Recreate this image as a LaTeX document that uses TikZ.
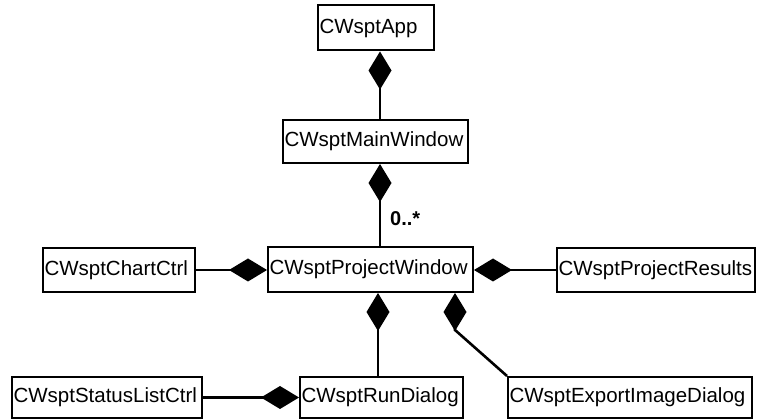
\documentclass[tikz,border=0pt]{standalone}
\usepackage{fontspec}
\setmainfont{Liberation Sans}
\usetikzlibrary{arrows.meta}
\begin{document}
\begin{tikzpicture}[x=1pt,y=-1pt,
  cls/.style={draw=black, line width=2pt, fill=white, inner xsep=1.5pt, inner ysep=0pt,
    font=\fontsize{20.5}{23}\selectfont, align=left},
  comp/.style={line width=2.6pt, -{Diamond[length=38pt,width=23pt]}},
  lbl/.style={font=\fontsize{20}{23}\selectfont\bfseries, inner sep=0pt, anchor=west}]
\useasboundingbox (0,0) rectangle (758,419);
\fill[white] (0,0) rectangle (758,419);
% classes
\node[cls, text width=113pt, minimum height=45pt] (app) at (376,28) {CWsptApp};
\node[cls, text width=182pt, minimum height=43pt] (main) at (375.5,141.5) {CWsptMainWindow};
\node[cls, text width=202pt, minimum height=45pt] (proj) at (370.5,269.5) {CWsptProjectWindow};
\node[cls, text width=149pt, minimum height=44pt] (chart) at (119,270) {CWsptChartCtrl};
\node[cls, text width=195pt, minimum height=44pt] (res) at (656,270) {CWsptProjectResults};
\node[cls, text width=187pt, minimum height=41pt] (stat) at (107,397.5) {CWsptStatusListCtrl};
\node[cls, text width=160pt, minimum height=41pt] (run) at (381.5,397.5) {CWsptRunDialog};
\node[cls, text width=241pt, minimum height=41pt] (exp) at (630,397.5) {CWsptExportImageDialog};
% helper coordinates
\coordinate (c1) at (380,0);
\coordinate (c2) at (378,0);
\coordinate (d) at (455,330);
% connectors
\draw[comp] (main.north -| c1) -- (app.south -| c1);
\draw[comp] (proj.north -| c1) -- (main.south -| c1);
\node[lbl] (mult) at (390,219) {0..*};
\draw[comp] (chart.east) -- (proj.west |- chart.east);
\draw[comp] (res.west) -- (proj.east |- res.west);
\draw[comp] (run.north -| c2) -- (proj.south -| c2);
\draw[comp] (stat.east) -- (run.west |- stat.east);
\draw[comp] (exp.north west) -- (d) -- (proj.south -| d);
\end{tikzpicture}
\end{document}
